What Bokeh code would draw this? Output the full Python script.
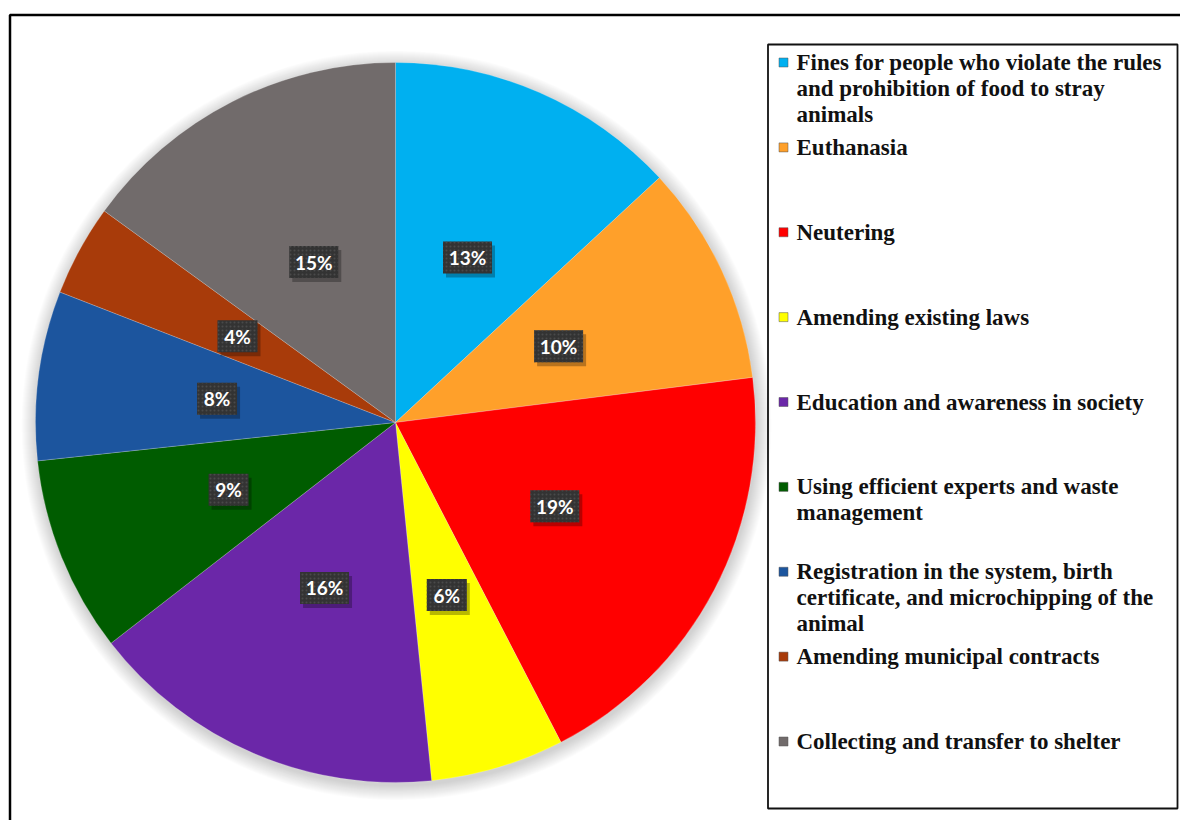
import math
from bokeh.plotting import figure
from bokeh.models import Range1d, ColumnDataSource
from bokeh.core.properties import value
from bokeh.embed import file_html
from bokeh.resources import INLINE

categories = [
    "Fines for people who violate the rules\nand prohibition of food to stray\nanimals",
    "Euthanasia",
    "Neutering",
    "Amending existing laws",
    "Education and awareness in society",
    "Using efficient experts and waste\nmanagement",
    "Registration in the system, birth\ncertificate, and microchipping of the\nanimal",
    "Amending municipal contracts",
    "Collecting and transfer to shelter",
]
values = [13.1, 9.9, 19.4, 6.0, 16.1, 8.8, 7.6, 4.1, 15.0]
labels = ["13%", "10%", "19%", "6%", "16%", "9%", "8%", "4%", "15%"]
colors = ["#00B0F0", "#FFA02A", "#FF0000", "#FFFF00", "#6B27A8",
          "#005C00", "#1C559E", "#A83B0A", "#716B6B"]

W, H = 1180, 820
p = figure(width=W, height=H, x_range=Range1d(0, W), y_range=Range1d(-H, 0),
           output_backend="svg", toolbar_location=None, min_border=0)
p.axis.visible = False
p.grid.visible = False
p.outline_line_color = None
p.background_fill_color = "white"

# outer frame (left and top edges visible)
p.line(x=[9.5, 9.5, 1300], y=[-900, -14.5, -14.5], line_color="black", line_width=2.5)

cx, cy, R = 395, -422, 360

# soft shadow
for k in range(1, 16):
    p.circle(x=[cx + 1], y=[cy - 3], radius=R + k, fill_color="black",
             fill_alpha=0.011, line_color=None)

total = sum(values)
starts, ends, lx, ly = [], [], [], []
cum = 0.0
for v in values:
    a0 = math.pi / 2 - 2 * math.pi * cum / total
    a1 = math.pi / 2 - 2 * math.pi * (cum + v) / total
    starts.append(a1)
    ends.append(a0)
    mid = (a0 + a1) / 2
    lx.append(cx + 0.5 * R * math.cos(mid))
    ly.append(cy + 0.5 * R * math.sin(mid))
    cum += v

src = ColumnDataSource(dict(start=starts, end=ends, color=colors))
p.wedge(x=cx, y=cy, radius=R, start_angle="start", end_angle="end",
        fill_color="color", line_color="white", line_alpha=0.35, line_width=0.6, source=src)

# data labels
bw = [49 if len(t) > 2 else 40 for t in labels]
p.rect(x=[x + 3 for x in lx], y=[y - 4 for y in ly], width=bw, height=32,
       fill_color="black", fill_alpha=0.28, line_color=None)
p.rect(x=lx, y=ly, width=bw, height=32, fill_color="#333333", line_color=None,
       hatch_pattern="dot", hatch_color="#4a4a4a", hatch_scale=4, hatch_weight=1)
p.text(x=lx, y=ly, text=labels, text_color="white", text_font=value("Lato"),
       text_font_style="bold", text_font_size="19px", text_align="center",
       text_baseline="middle")

# legend box
p.quad(left=767.5, right=1177, top=-44, bottom=-808, fill_color=None,
       line_color="#111111", line_width=1.8)

tx, ty, tt, mx, my = [], [], [], [], []
for i, c in enumerate(categories):
    y0 = 62 + i * 84.875
    mx.append(783)
    my.append(-y0)
    for j, line in enumerate(c.split("\n")):
        tx.append(796)
        ty.append(-(y0 + j * 25.8))
        tt.append(line)

p.rect(x=mx, y=my, width=9, height=9, fill_color=colors, line_color="#555555", line_width=0.5)
p.text(x=tx, y=ty, text=tt, text_color="#111111", text_font=value("Liberation Serif"),
       text_font_style="bold", text_font_size="23px", text_align="left",
       text_baseline="middle")

open("out.html", "w").write(file_html(p, INLINE))
